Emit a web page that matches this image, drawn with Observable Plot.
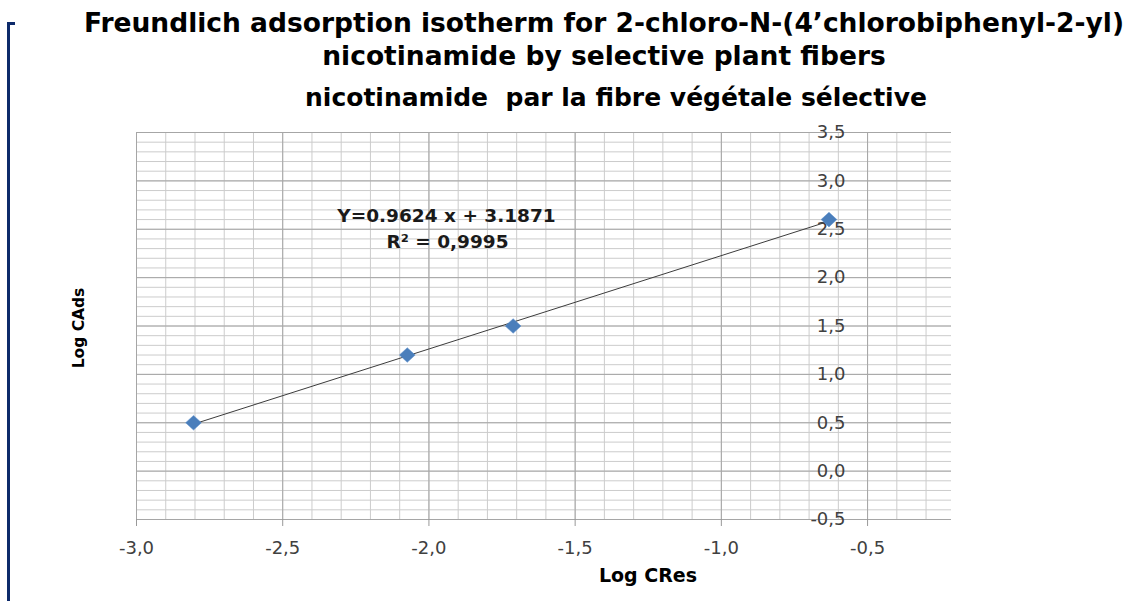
<!DOCTYPE html>
<html><head><meta charset="utf-8">
<script src="https://cdn.jsdelivr.net/npm/d3@7"></script>
<script src="https://cdn.jsdelivr.net/npm/@observablehq/plot@0.6"></script>
<style>
body{margin:0;background:#fff;width:1146px;height:601px;overflow:hidden;position:relative;font-family:"DejaVu Sans",sans-serif;}
#bar{position:absolute;left:7px;top:22px;width:3px;height:579px;background:#0d2a6a;}
#bartop{position:absolute;left:7px;top:22px;width:8px;height:3px;background:#0d2a6a;}
#head{position:relative;height:120px;}
.t{position:absolute;white-space:pre;font-weight:bold;color:#000;line-height:1;transform:translateX(-50%);}
#chart svg{display:block;}
</style></head><body>
<div id="bar"></div><div id="bartop"></div>
<div id="head">
  <div class="t" id="t1" style="left:604px;top:10px;font-size:26.5px;"></div>
  <div class="t" id="t2" style="left:604px;top:43px;font-size:26.5px;"></div>
  <div class="t" id="t3" style="left:616px;top:85px;font-size:25px;"></div>
</div>
<div id="chart"></div>
<script>
// ---- data ----
const titleLines = [
  "Freundlich adsorption isotherm for 2-chloro-N-(4’chlorobiphenyl-2-yl)",
  "nicotinamide by selective plant fibers",
  "nicotinamide  par la fibre végétale sélective"
];
const xTitle = "Log CRes";
const yTitle = "Log CAds";
const logCRes = [-2.805, -2.074, -1.712, -0.632];
const logCAds = [0.50, 1.20, 1.50, 2.60];
const equationLines = ["Y=0.9624 x + 3.1871", "R² = 0,9995"];
const xTicks = [-3.0, -2.5, -2.0, -1.5, -1.0, -0.5];
const yTicks = [-0.5, 0.0, 0.5, 1.0, 1.5, 2.0, 2.5, 3.0, 3.5];
const xMinor = d3.range(-30, -2).map(v => v / 10);
const yMinor = d3.range(-5, 36).map(v => v / 10);

// ---- build ----
titleLines.forEach((t, i) => document.getElementById("t" + (i + 1)).textContent = t);
const points = logCRes.map((x, i) => ({x, y: logCAds[i]}));
const comma = d => d3.format(".1f")(d).replace(".", ",").replace("−", "-");
const diamond = {
  draw(ctx, size) {
    const r = Math.sqrt(size / Math.PI);
    const w = r * 1.08, h = r;
    ctx.moveTo(0, -h); ctx.lineTo(w, 0); ctx.lineTo(0, h); ctx.lineTo(-w, 0); ctx.closePath();
  }
};

const chart = Plot.plot({
  width: 1146, height: 481,
  marginTop: 12, marginLeft: 136, marginRight: 195, marginBottom: 82,
  style: {fontFamily: "DejaVu Sans", background: "#fff", overflow: "visible", color: "#404040"},
  x: {domain: [-3, -0.213]},
  y: {domain: [-0.5, 3.5]},
  marks: [
    Plot.gridX(xMinor, {stroke: "#cccccc", strokeOpacity: 1}),
    Plot.gridY(yMinor, {stroke: "#cccccc", strokeOpacity: 1}),
    Plot.gridX(xTicks, {stroke: "#a6a6a6", strokeOpacity: 1}),
    Plot.gridY(yTicks, {stroke: "#a6a6a6", strokeOpacity: 1}),
    Plot.axisX({ticks: xTicks, tickSize: 7, tickPadding: 15, tickFormat: comma, fontSize: 18, stroke: "#999", fill: "#404040", label: null}),
    Plot.axisY({ticks: yTicks, tickSize: 0, tickPadding: 0, dx: 709, tickFormat: comma, fontSize: 18, fill: "#404040", label: null}),
    Plot.linearRegressionY(points, {x: "x", y: "y", stroke: "#3c3c3c", strokeWidth: 1, ci: 0}),
    Plot.dot(points, {x: "x", y: "y", symbol: diamond, r: 7.3, fill: "#4a7ebb", stroke: "#5b8fcc", strokeWidth: 0.5}),
    Plot.text([equationLines[0]], {text: d => d, frameAnchor: "top-left", textAnchor: "middle", lineAnchor: "middle", dx: 310, dy: 84, fontSize: 18.5, fontWeight: "bold", fill: "#1a1a1a"}),
    Plot.text([equationLines[1]], {text: d => d, frameAnchor: "top-left", textAnchor: "middle", lineAnchor: "middle", dx: 311, dy: 110, fontSize: 18.5, fontWeight: "bold", fill: "#1a1a1a"}),
    Plot.text([xTitle], {text: d => d, frameAnchor: "bottom", textAnchor: "middle", lineAnchor: "middle", dx: 104, dy: 56, fontSize: 19, fontWeight: "bold", fill: "#000"}),
    Plot.text([yTitle], {text: d => d, frameAnchor: "left", textAnchor: "middle", lineAnchor: "middle", rotate: -90, dx: -57, dy: 2, fontSize: 15.5, fontWeight: "bold", fill: "#000"})
  ]
});
document.getElementById("chart").appendChild(chart);
</script>
</body></html>
